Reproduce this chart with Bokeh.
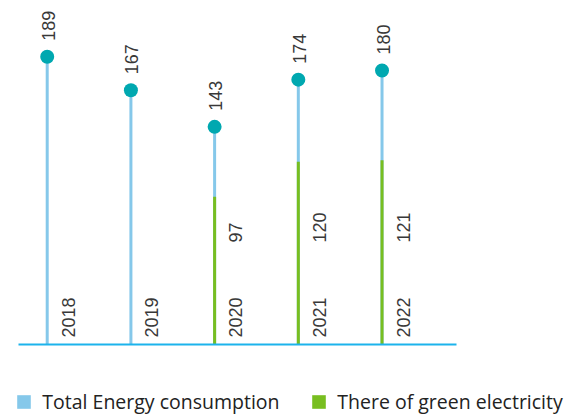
import math
from bokeh.plotting import figure
from bokeh.models import Range1d, Legend, LegendItem, LinearAxis
from bokeh.core.properties import value
from bokeh.embed import file_html
from bokeh.resources import INLINE

# ---- data ----
years = [2018, 2019, 2020, 2021, 2022]
total_energy = [189, 167, 143, 174, 180]
green_years = [2020, 2021, 2022]
green_electricity = [97, 120, 121]
series_names = ["Total Energy consumption", "There of green electricity"]

# ---- styles ----
BLUE_LIGHT = "#85c8ea"
GREEN = "#78be20"
TEAL = "#00a8b0"
AXIS_BLUE = "#1cb3ec"
TEXT = "#383838"
NUM_FONT = value("Liberation Sans")
LEG_FONT = "Open Sans"
NAN = float("nan")

p = figure(width=564, height=419, output_backend="svg", toolbar_location=None,
           x_range=Range1d(2017.442, 2024.180), y_range=Range1d(-49.28, 226.0),
           x_axis_location=None, y_axis_location=None,
           min_border_left=0, min_border_right=0,
           min_border_top=0, min_border_bottom=0)
p.grid.visible = False
p.outline_line_color = None
p.background_fill_color = "white"
p.border_fill_color = "white"

# baseline axis at value 0, limited to the chart's extent
ax = LinearAxis(fixed_location=0, bounds=(2017.657, 2022.890))
ax.axis_line_color = AXIS_BLUE
ax.axis_line_width = 2
ax.major_tick_line_color = None
ax.minor_tick_line_color = None
ax.major_label_text_color = None
ax.major_label_text_font_size = "1px"
p.add_layout(ax, "below")

# stems
p.segment(x0=years, y0=0, x1=years, y1=total_energy,
          line_color=BLUE_LIGHT, line_width=3, line_cap="butt")
p.segment(x0=green_years, y0=0, x1=green_years, y1=green_electricity,
          line_color=GREEN, line_width=3, line_cap="butt")
# heads
p.scatter(x=years, y=total_energy, size=14, fill_color=TEAL, line_color=None)

# labels
FS = "18px"
p.text(x=years, y=total_energy, text=[str(v) for v in total_energy],
       angle=math.pi / 2, text_align="left", text_baseline="middle",
       x_offset=1, y_offset=-16, text_font=NUM_FONT, text_font_size=FS,
       text_color=TEXT)
p.text(x=years, y=[0] * len(years), text=[str(y) for y in years],
       angle=math.pi / 2, text_align="left", text_baseline="middle",
       x_offset=21, y_offset=-7, text_font=NUM_FONT, text_font_size=FS,
       text_color=TEXT)
p.text(x=green_years, y=[0] * len(green_years), text=[str(v) for v in green_electricity],
       angle=math.pi / 2, text_align="left", text_baseline="middle",
       x_offset=21, y_offset=-102, text_font=NUM_FONT, text_font_size=FS,
       text_color=TEXT)

# legend swatches: proxy renderers with no visible data
r_total = p.quad(left=[NAN], right=[NAN], top=[NAN], bottom=[NAN],
                 fill_color=BLUE_LIGHT, line_color=None)
r_green = p.quad(left=[NAN], right=[NAN], top=[NAN], bottom=[NAN],
                 fill_color=GREEN, line_color=None)

def make_legend(name, rend, loc):
    lg = Legend(items=[LegendItem(label=name, renderers=[rend])], location=loc,
                orientation="horizontal", glyph_width=17, glyph_height=17,
                label_standoff=10, padding=0, margin=0, spacing=0,
                border_line_color=None, background_fill_alpha=0,
                label_text_font=LEG_FONT, label_text_font_size="19.5px",
                label_text_color="#222222", label_height=17)
    return lg

p.add_layout(make_legend(series_names[0], r_total, (15.3, 4)))
p.add_layout(make_legend(series_names[1], r_green, (310.3, 4)))

open("out.html", "w").write(file_html(p, INLINE))
